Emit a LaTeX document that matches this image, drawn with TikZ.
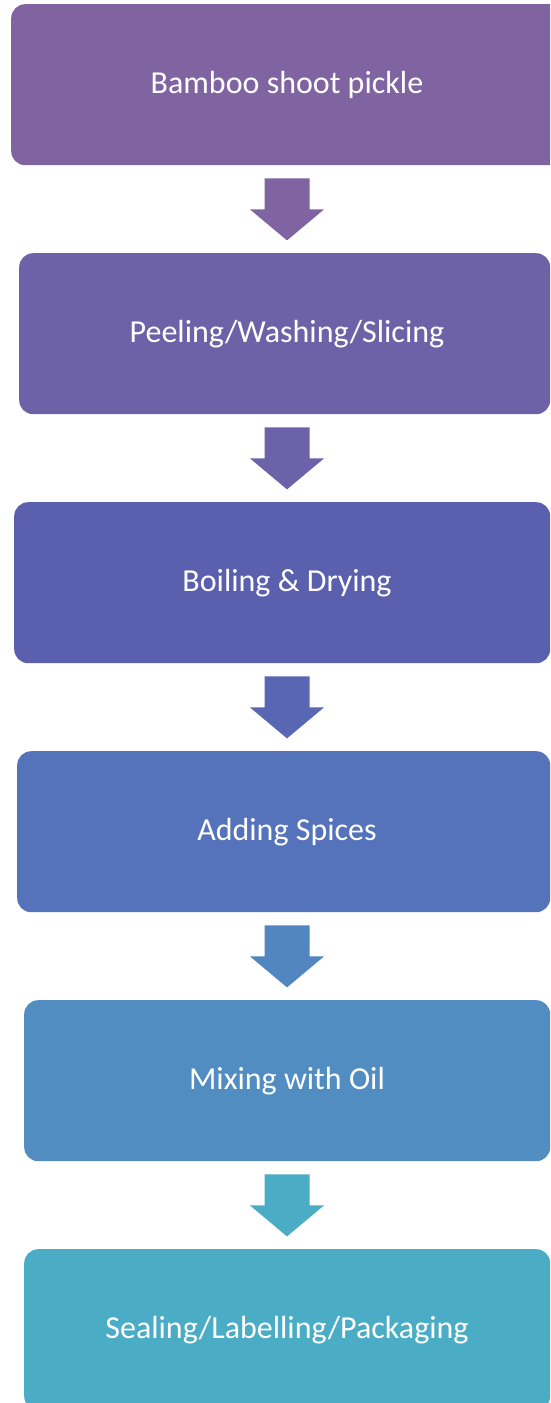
\documentclass[tikz,border=0pt]{standalone}
\usepackage{fontspec}
\setmainfont{Carlito}
\usetikzlibrary{calc}
\definecolor{c1}{HTML}{8064A2}
\definecolor{c2}{HTML}{6D62A8}
\definecolor{c3}{HTML}{5A5FAE}
\definecolor{c4}{HTML}{5573BA}
\definecolor{c5}{HTML}{518DC0}
\definecolor{c6}{HTML}{4BACC6}
\definecolor{a1}{HTML}{8064A2}
\definecolor{a2}{HTML}{6B62A9}
\definecolor{a3}{HTML}{5966B4}
\definecolor{a4}{HTML}{5286C0}
\definecolor{a5}{HTML}{4BACC6}
\tikzset{
  stagebox/.style={rectangle, rounded corners=14pt, minimum height=161pt, inner sep=0pt, anchor=north west, draw=none},
  stagetext/.style={text=white, font=\fontsize{32pt}{38pt}\selectfont, inner sep=0pt},
  pics/dnarrow/.style={code={\fill[#1] (-22.5pt,0pt) -- (22.5pt,0pt) -- (22.5pt,-31pt) -- (37pt,-31pt) -- (0pt,-62pt) -- (-37pt,-31pt) -- (-22.5pt,-31pt) -- cycle;}}
}
\begin{document}
\begin{tikzpicture}[x=1pt,y=1pt]
\useasboundingbox (0,0) rectangle (550,-1403);
\begin{scope}
\clip (0,0) rectangle (550,-1403);
\node[stagebox, fill=c1, minimum width=560pt] (b1) at (11,-4) {};
\node[stagebox, fill=c2, minimum width=531pt] (b2) at (19,-253) {};
\node[stagebox, fill=c3, minimum width=536pt] (b3) at (14,-502) {};
\node[stagebox, fill=c4, minimum width=533pt] (b4) at (17,-751) {};
\node[stagebox, fill=c5, minimum width=526pt] (b5) at (24,-1000) {};
\node[stagebox, fill=c6, minimum width=526pt] (b6) at (24,-1249) {};
\end{scope}
\coordinate (mid) at (287,0);
\node[stagetext] (t1) at (b1.center -| mid) {Bamboo shoot pickle};
\node[stagetext] (t2) at (b2.center -| mid) {Peeling/Washing/Slicing};
\node[stagetext] (t3) at (b3.center -| mid) {Boiling \& Drying};
\node[stagetext] (t4) at (b4.center -| mid) {Adding Spices};
\node[stagetext] (t5) at (b5.center -| mid) {Mixing with Oil};
\node[stagetext] (t6) at (b6.center -| mid) {Sealing/Labelling/Packaging};
\pic at ([yshift=-13pt]b1.south -| mid) {dnarrow=a1};
\pic at ([yshift=-13pt]b2.south -| mid) {dnarrow=a2};
\pic at ([yshift=-13pt]b3.south -| mid) {dnarrow=a3};
\pic at ([yshift=-13pt]b4.south -| mid) {dnarrow=a4};
\pic at ([yshift=-13pt]b5.south -| mid) {dnarrow=a5};
\end{tikzpicture}
\end{document}
